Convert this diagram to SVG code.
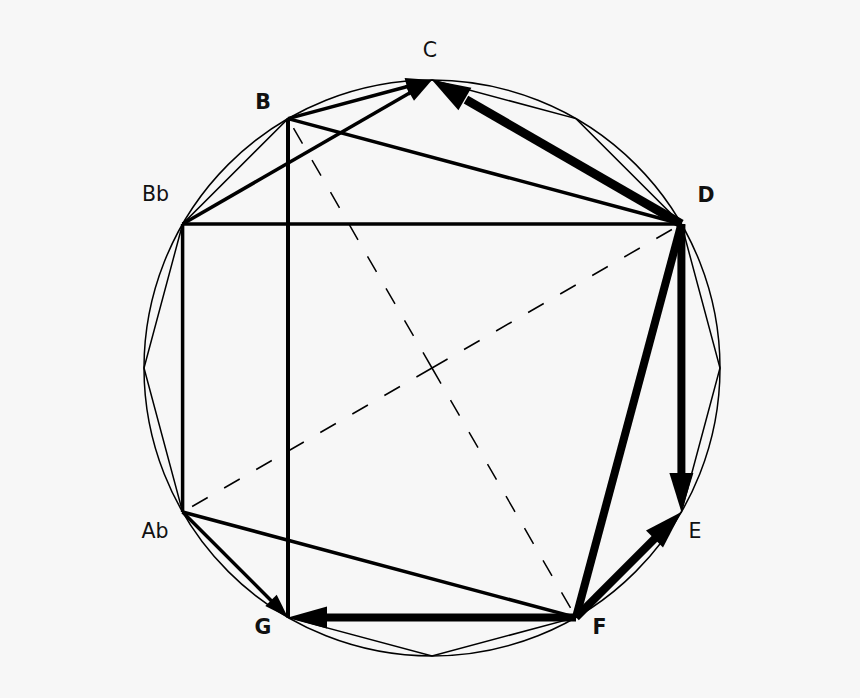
<svg xmlns="http://www.w3.org/2000/svg" width="860" height="698" viewBox="0 0 860 698">
<style>
.thin{fill:none;stroke:#000;stroke-width:1.5}
.med{fill:none;stroke:#000;stroke-width:3.5}
.thick{fill:none;stroke:#000;stroke-width:8}
.dash{fill:none;stroke:#000;stroke-width:1.5;stroke-dasharray:18 19}
.head{fill:#000;stroke:none}
.lbl{font-family:"DejaVu Sans","Liberation Sans",sans-serif;font-size:20.5px;fill:#111;text-anchor:middle}
.b{font-weight:bold}
</style>
<rect width="860" height="698" fill="#f7f7f7"/>
<g id="frame">
<circle class="thin" cx="432" cy="368" r="288"/>
<polygon class="thin" points="432,80 576,118.6 681.4,224 720,368 681.4,512 576,617.4 432,656 288,617.4 182.6,512 144,368 182.6,224 288,118.6"/>
</g>
<g id="connectors">
<path class="dash" d="M432,368 L288,118.6 M432,368 L576,617.4 M432,368 L182.6,512 M432,368 L681.4,224"/>
<line class="med" x1="288" y1="118.6" x2="681.4" y2="224"/>
<line class="med" x1="182.6" y1="224" x2="681.4" y2="224"/>
<line class="med" x1="182.6" y1="224" x2="182.6" y2="512"/>
<line class="med" x1="288" y1="118.6" x2="288" y2="617.4" style="stroke-width:4"/>
<line class="med" x1="182.6" y1="512" x2="576" y2="617.4"/>
<line class="thick" x1="681.4" y1="224" x2="576" y2="617.4"/>
<line class="med" x1="182.6" y1="224" x2="410" y2="92.7"/>
<polygon class="head" points="432,80 414,100.8 405,85.2"/>
<line class="med" x1="288" y1="118.6" x2="407.5" y2="86.5"/>
<polygon class="head" points="432,80 409.2,95.4 404.6,78"/>
<line class="thick" x1="681.4" y1="224" x2="466" y2="99.6" style="stroke-width:9"/>
<polygon class="head" points="432,80 471.4,87.7 458.4,110.3"/>
<line class="thick" x1="681.4" y1="224" x2="681.4" y2="474"/>
<polygon class="head" points="681.4,512 669.4,473 693.4,473"/>
<line class="thick" x1="576" y1="617.4" x2="655.2" y2="538.2"/>
<polygon class="head" points="681.4,512 663,547.4 646,530.4"/>
<line class="thick" x1="576" y1="617.4" x2="326" y2="617.4"/>
<polygon class="head" points="288,617.4 327,606.4 327,628.4"/>
<line class="med" x1="182.6" y1="512" x2="271.5" y2="600.9"/>
<polygon class="head" points="288,617.4 265.3,606.1 276.7,594.7"/>
</g>
<g id="node-C"><text class="lbl" x="430" y="57">C</text></g>
<g id="node-B"><text class="lbl b" x="263" y="109">B</text></g>
<g id="node-Bb"><text class="lbl" x="155.5" y="201">Bb</text></g>
<g id="node-D"><text class="lbl b" x="706" y="202">D</text></g>
<g id="node-E"><text class="lbl" x="695" y="538">E</text></g>
<g id="node-F"><text class="lbl b" x="599.5" y="634">F</text></g>
<g id="node-G"><text class="lbl b" x="263" y="634">G</text></g>
<g id="node-Ab"><text class="lbl" x="155" y="538">Ab</text></g>
</svg>
